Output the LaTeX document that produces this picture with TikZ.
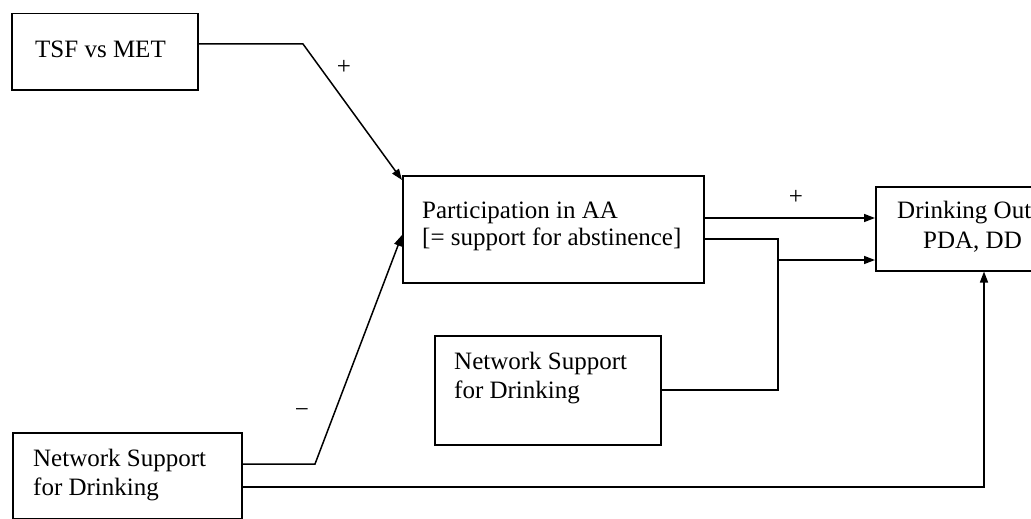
\documentclass[tikz,border=0pt]{standalone}
\usepackage{fontspec}
\setmainfont{Liberation Serif}
\usetikzlibrary{arrows.meta}
\begin{document}
\begin{tikzpicture}[x=1pt,y=-1pt,
  box/.style={draw, line width=1.5pt, rectangle, inner sep=0pt, anchor=north west},
  txt/.style={anchor=base west, inner sep=0pt, font=\fontsize{25}{29}\selectfont},
  sign/.style={inner sep=0pt, font=\fontsize{25}{29}\selectfont},
  conn/.style={line width=1.5pt},
  arr/.style={conn, -{Triangle[length=11pt,width=8pt]}}]
\useasboundingbox (0,0) rectangle (1031,519);
\clip (0,0) rectangle (1031,519);
% boxes
\node[box, minimum width=186pt, minimum height=76pt] (tsf) at (11,13) {};
\node[box, minimum width=301pt, minimum height=107pt] (part) at (402,175) {};
\node[box, minimum width=200pt, minimum height=84pt] (drink) at (875,186) {};
\node[box, minimum width=226pt, minimum height=109pt] (net2) at (434,335) {};
\node[box, minimum width=229pt, minimum height=86pt] (net1) at (12,432) {};
% texts
\node[txt] (tsfa) at (35,58) {TSF vs MET};
\node[txt] (parta) at (422,218) {Participation in AA};
\node[txt] (partb) at (422,245) {[= support for abstinence]};
\node[txt] (drinka) at (897,218) {Drinking Out};
\node[txt] (drinkb) at (923,248) {PDA, DD};
\node[txt] (net2a) at (454,369) {Network Support};
\node[txt] (net2b) at (454,398) {for Drinking};
\node[txt] (net1a) at (33,466) {Network Support};
\node[txt] (net1b) at (33,495) {for Drinking};
% signs
\node[sign] (p1) at (344,67) {+};
\node[sign] (p2) at (796,197) {+};
\node[sign] (m1) at (302,413) {−};
% helper coordinates
\coordinate (k1) at (303,44);
\coordinate (k2) at (315,464);
\coordinate (y235) at (0,235);
\coordinate (ya) at (0,218);
\coordinate (j1) at (778,239);
\coordinate (j2) at (778,390);
\coordinate (j3) at (778,260);
\coordinate (b1) at (984,487);
% connectors
\draw[arr] (tsf.east |- k1) -- (k1) -- ([yshift=-5pt]part.north west);
\draw[arr] (net1.east |- k2) -- (k2) -- (part.west |- y235);
\draw[arr] (part.east |- ya) -- (drink.west |- ya);
\draw[conn] (part.east |- j1) -- (j1) -- (j2) -- (net2.east |- j2);
\draw[arr] (j3) -- (drink.west |- j3);
\draw[arr] (net1.east |- b1) -- (b1) -- (drink.south -| b1);
\end{tikzpicture}
\end{document}
